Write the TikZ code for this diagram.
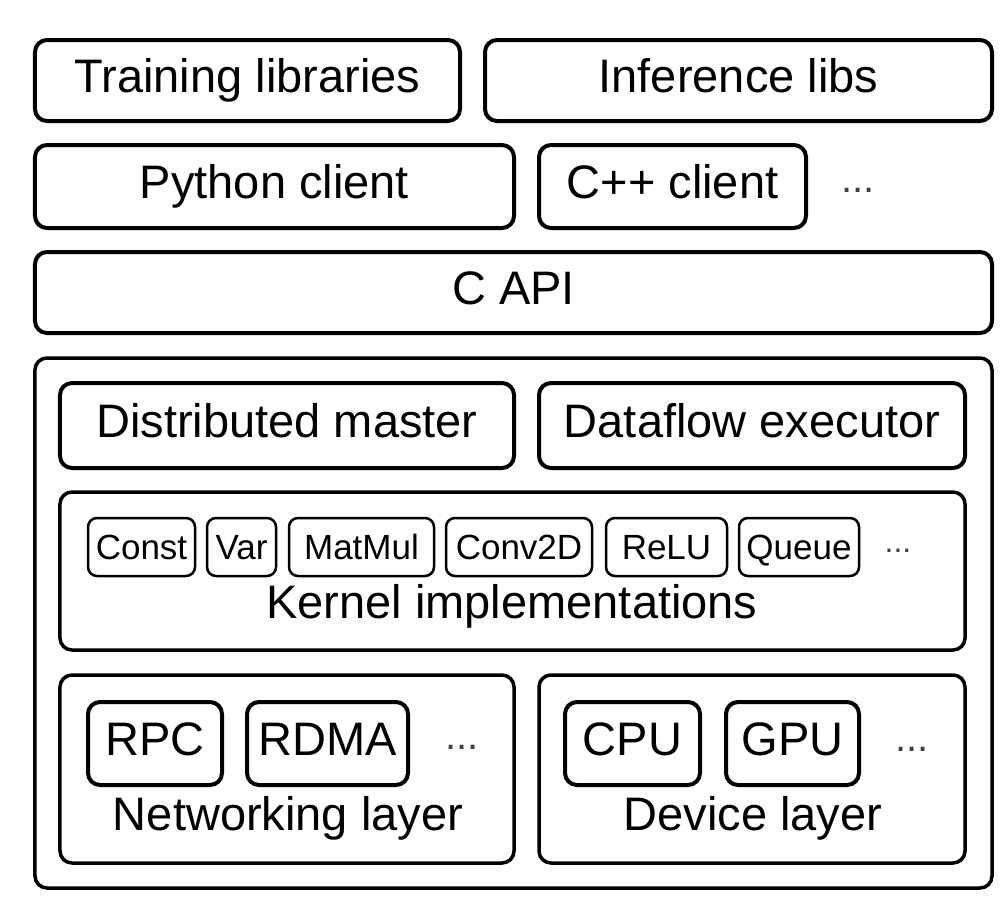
\documentclass[tikz,border=0pt]{standalone}
\usepackage{fontspec}
\setmainfont{Liberation Sans}
\usetikzlibrary{positioning}

\tikzset{
  layerbox/.style={draw, line width=4bp, rounded corners=12bp, inner sep=0pt,
    text height=33.5bp, text depth=9bp, font=\fontsize{47bp}{56bp}\selectfont},
  groupbox/.style={layerbox, line width=3.5bp},
  opbox/.style={draw, line width=2.5bp, rounded corners=9bp, inner sep=0pt,
    minimum height=58bp, text height=25bp, text depth=0pt,
    font=\fontsize{35bp}{42bp}\selectfont},
  devbox/.style={layerbox, minimum height=83bp},
  moredots/.style={inner sep=0pt, text=black!75, font=\fontsize{40bp}{48bp}\selectfont},
  caption/.style={anchor=base, inner sep=0pt, font=\fontsize{47bp}{56bp}\selectfont}
}

\begin{document}
\begin{tikzpicture}[x=1bp,y=-1bp]
  \useasboundingbox (0,0) rectangle (1002,924);
  % client side
  \node[layerbox, minimum width=425bp, minimum height=81bp] (train) at (247.5,80.5) {Training libraries};
  \node[layerbox, minimum width=507bp, minimum height=81bp] (infer) at (738.5,80.5) {Inference libs};
  \node[layerbox, minimum width=479bp, minimum height=83bp] (python) at (274.5,186.5) {Python client};
  \node[layerbox, minimum width=267bp, minimum height=83bp] (cpp) at (672.5,186.5) {C++ client};
  \node[moredots] (clientdots) at (858,190) {...};
  \node[layerbox, minimum width=957bp, minimum height=81bp] (capi) at (513.5,292.5) {C API};
  % runtime
  \node[groupbox, minimum width=957bp, minimum height=530bp] (runtime) at (513.5,623) {};
  \node[layerbox, minimum width=454bp, minimum height=85bp] (master) at (287,425.5) {Distributed master};
  \node[layerbox, minimum width=426bp, minimum height=85bp] (executor) at (752,425.5) {Dataflow executor};
  % kernels
  \node[groupbox, minimum width=905bp, minimum height=158bp] (kernels) at (512.5,571) {};
  \node[opbox, minimum width=107bp] (const) at (141.5,547) {Const};
  \node[opbox, minimum width=69bp] (var) at (241.5,547) {Var};
  \node[opbox, minimum width=145bp] (matmul) at (361.5,547) {MatMul};
  \node[opbox, minimum width=146bp] (conv) at (519,547) {Conv2D};
  \node[opbox, minimum width=121bp] (relu) at (666.5,547) {ReLU};
  \node[opbox, minimum width=120bp] (queue) at (799,547) {Queue};
  \node[moredots, font=\fontsize{32bp}{38bp}\selectfont] (kerneldots) at (898,551) {...};
  \node[caption] (kernellabel) at (512,618) {Kernel implementations};
  % networking and devices
  \node[groupbox, minimum width=454bp, minimum height=188bp] (net) at (287,769) {};
  \node[groupbox, minimum width=426bp, minimum height=188bp] (dev) at (752,769) {};
  \node[devbox, minimum width=134bp] (rpc) at (155,743.5) {RPC};
  \node[devbox, minimum width=161bp] (rdma) at (327.5,743.5) {RDMA};
  \node[moredots] (netdots) at (462,747) {...};
  \node[devbox, minimum width=135bp] (cpu) at (632.5,743.5) {CPU};
  \node[devbox, minimum width=133bp] (gpu) at (792.5,743.5) {GPU};
  \node[moredots] (devdots) at (912,749) {...};
  \node[caption] (netlabel) at (288,830) {Networking layer};
  \node[caption] (devlabel) at (753,830) {Device layer};
\end{tikzpicture}
\end{document}
